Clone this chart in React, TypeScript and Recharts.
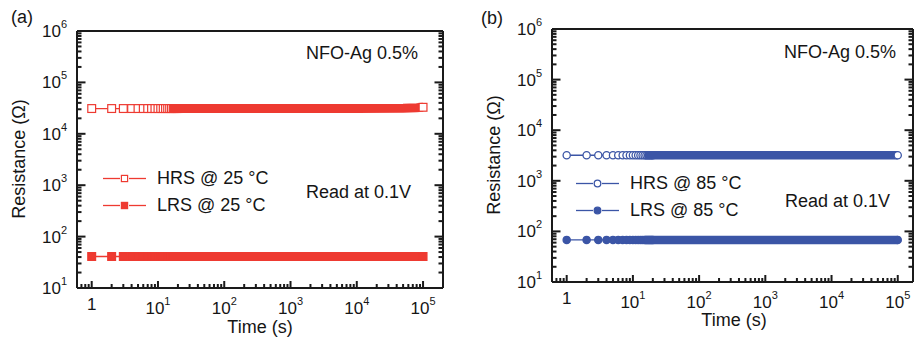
import { ScatterChart, Scatter, XAxis, YAxis, ReferenceLine, Legend } from 'recharts';

const RED = '#ee3a31';
const BLUE = '#3b55a6';
const AXIS = '#1a1a1a';
const TEXT = '#151515';
const FONT = '"Liberation Sans", Arial, sans-serif';

// first 20 readings (1 s apart), markers still distinguishable
const earlyTime = [1, 2, 3, 4, 5, 6, 7, 8, 9, 10, 11, 12, 13, 14, 15, 16, 17, 18, 19, 20];
const hrs25Early = [3.1e4, 3.1e4, 3.1e4, 3.1e4, 3.1e4, 3.1e4, 3.1e4, 3.1e4, 3.1e4, 3.1e4, 3.1e4, 3.1e4, 3.1e4, 3.1e4, 3.1e4, 3.1e4, 3.1e4, 3.1e4, 3.1e4, 3.1e4];
const lrs25Early = [41, 41, 41, 41, 41, 41, 41, 41, 41, 41, 41, 41, 41, 41, 41, 41, 41, 41, 41, 41];
const hrs85Early = [3200, 3200, 3200, 3200, 3200, 3200, 3200, 3200, 3200, 3200, 3200, 3200, 3200, 3200, 3200, 3200, 3200, 3200, 3200, 3200];
const lrs85Early = [68, 68, 68, 68, 68, 68, 68, 68, 68, 68, 68, 68, 68, 68, 68, 68, 68, 68, 68, 68];

// later readings merge into a continuous band of markers
const bandTime = [15, 100, 1000, 10000, 50000, 80000, 100000];
const hrs25Band = [3.1e4, 3.1e4, 3.1e4, 3.12e4, 3.15e4, 3.22e4, 3.28e4];
const lrs25Band = [41, 41, 41, 41, 41, 41, 41];
const hrs85Band = [3200, 3200, 3200, 3200, 3200, 3200, 3200];
const lrs85Band = [68, 68, 68, 68, 68, 68, 68];

const xMajor = [1, 10, 100, 1000, 10000, 100000];
const yMajor = [10, 100, 1000, 10000, 100000, 1000000];
const minorMantissa = [2, 3, 4, 5, 6, 7, 8, 9];

const xTicks = [0.7, 0.8, 0.9, ...xMajor.slice(0, 5).flatMap((d) => minorMantissa.map((m) => m * d)), ...xMajor].sort((a, b) => a - b);
const yTicks = [...yMajor.slice(0, 5).flatMap((d) => minorMantissa.map((m) => m * d)), ...yMajor].sort((a, b) => a - b);

const TW = 2; // tick thickness

const pts = (ts: number[], rs: number[]) => ts.map((t, i) => ({ t, r: rs[i] }));

const decade = (v: number) => {
    const lg = Math.log10(v);
    const e = Math.round(lg);
    return { major: Math.abs(lg - e) < 1e-6, e };
};

// with tickSize = tickMargin = 0 the tick props sit on the axis line; ticks drawn inward
const renderXTick = (props: any) => {
    const x = Number(props.x);
    const y = Number(props.y);
    const { major, e } = decade(Number(props.payload.value));
    const len = major ? 7 : 4;
    return (
        <g>
            <rect x={x - TW / 2} y={y - len} width={TW} height={len} fill={AXIS} />
            {major && (e === 0 ? (
                <text x={x} y={y + 22} textAnchor="middle" fontSize={17} fill={TEXT}>1</text>
            ) : (
                <text x={x} y={y + 26} textAnchor="middle" fontSize={17} fill={TEXT}>
                    10<tspan dy={-9} fontSize={11}>{e}</tspan>
                </text>
            ))}
        </g>
    );
};

const renderYTickLeft = (props: any) => {
    const x = Number(props.x);
    const y = Number(props.y);
    const { major, e } = decade(Number(props.payload.value));
    const len = major ? 8.5 : 4.5;
    return (
        <g>
            <rect x={x} y={y - TW / 2} width={len} height={TW} fill={AXIS} />
            {major && (
                <text x={x - 10} y={y + 6} textAnchor="end" fontSize={17} fill={TEXT}>
                    10<tspan dy={-9} fontSize={11}>{e}</tspan>
                </text>
            )}
        </g>
    );
};

const renderYTickRight = (props: any) => {
    const x = Number(props.x);
    const y = Number(props.y);
    const { major } = decade(Number(props.payload.value));
    const len = major ? 8.5 : 4.5;
    return <rect x={x - len} y={y - TW / 2} width={len} height={TW} fill={AXIS} />;
};

const drawMarker = (kind: string, filled: boolean, color: string, cx: number, cy: number, size: number) =>
    kind === 'square' ? (
        <rect x={cx - size / 2} y={cy - size / 2} width={size} height={size} fill={filled ? color : '#fff'} stroke={color} strokeWidth={1.2} />
    ) : (
        <circle cx={cx} cy={cy} r={size / 2} fill={filled ? color : '#fff'} stroke={color} strokeWidth={1.3} />
    );

const markerShape = (kind: string, filled: boolean, color: string, size: number) => (props: any) => {
    if (props.cx == null || props.cy == null) return <g />;
    return drawMarker(kind, filled, color, props.cx, props.cy, size);
};

const emptyShape = () => <g />;

const axisLineStyle = { stroke: AXIS, strokeWidth: 2 };

interface PanelProps {
    tag: string;
    temp: string;
    color: string;
    kind: string;
    left: number;
    width: number;
    top: number;
    yAxisWidth: number;
    rightWidth: number;
    marginRight: number;
    xAxisHeight: number;
    xDomain: [number, number];
    hrsEarly: number[];
    lrsEarly: number[];
    hrsBand: number[];
    lrsBand: number[];
    legendPos: { left: number; top: number };
    tagPos: [number, number];
    yTitle: [number, number];
    xTitle: [number, number];
    nfoPos: [number, number];
    readPos: [number, number];
}

function Panel(p: PanelProps) {
    const size = p.kind === 'square' ? 7.8 : 7.2;
    const bandW = p.kind === 'square' ? 9 : 8.5;
    const last = bandTime.length - 1;
    const hrsName = `HRS @ ${p.temp} °C`;
    const lrsName = `LRS @ ${p.temp} °C`;

    const legendContent = ({ payload }: any) => {
        const items = (payload || []).filter((entry: any) => entry.value === hrsName || entry.value === lrsName);
        return (
            <div style={{ fontFamily: FONT, fontSize: 18, color: TEXT }}>
                {items.map((entry: any, i: number) => {
                    const filled = entry.value === lrsName;
                    return (
                        <div key={i} style={{ display: 'flex', alignItems: 'center', height: 27 }}>
                            <svg width={54} height={27} style={{ display: 'block' }}>
                                <line x1={0} x2={17} y1={13.5} y2={13.5} stroke={p.color} strokeWidth={1.3} />
                                <line x1={26} x2={43} y1={13.5} y2={13.5} stroke={p.color} strokeWidth={1.3} />
                                {drawMarker(p.kind, filled, p.color, 21.5, 13.5, p.kind === 'square' ? 6.2 : 6.6)}
                            </svg>
                            <span style={{ whiteSpace: 'nowrap' }}>{entry.value}</span>
                        </div>
                    );
                })}
            </div>
        );
    };

    return (
        <div style={{ position: 'absolute', left: p.left, top: 0, width: p.width, height: 337 }}>
            <ScatterChart width={p.width} height={337} margin={{ top: p.top, right: p.marginRight, bottom: 0, left: 0 }}>
                <XAxis
                    dataKey="t"
                    type="number"
                    scale="log"
                    domain={p.xDomain}
                    allowDataOverflow
                    ticks={xTicks}
                    interval={0}
                    tick={renderXTick}
                    tickLine={false}
                    tickSize={0}
                    tickMargin={0}
                    height={p.xAxisHeight}
                    axisLine={axisLineStyle}
                />
                <YAxis
                    dataKey="r"
                    type="number"
                    scale="log"
                    domain={[10, 1000000]}
                    allowDataOverflow
                    ticks={yTicks}
                    interval={0}
                    tick={renderYTickLeft}
                    tickLine={false}
                    tickSize={0}
                    tickMargin={0}
                    width={p.yAxisWidth}
                    axisLine={axisLineStyle}
                />
                <YAxis
                    yAxisId="r"
                    orientation="right"
                    type="number"
                    scale="log"
                    domain={[10, 1000000]}
                    allowDataOverflow
                    ticks={yTicks}
                    interval={0}
                    tick={renderYTickRight}
                    tickLine={false}
                    tickSize={0}
                    tickMargin={0}
                    width={p.rightWidth}
                    axisLine={axisLineStyle}
                />
                <ReferenceLine y={1000000} stroke={AXIS} strokeWidth={2} />
                <Legend
                    layout="vertical"
                    align="center"
                    verticalAlign="middle"
                    wrapperStyle={{ left: p.legendPos.left, top: p.legendPos.top, width: 220, height: 54 }}
                    content={legendContent}
                />

                <Scatter
                    name={hrsName}
                    data={pts(earlyTime, p.hrsEarly)}
                    fill={p.color}
                    line={{ stroke: p.color, strokeWidth: 1.3 }}
                    lineType="joint"
                    shape={markerShape(p.kind, false, p.color, size)}
                    isAnimationActive={false}
                />
                <Scatter
                    name={lrsName}
                    data={pts(earlyTime, p.lrsEarly)}
                    fill={p.color}
                    line={{ stroke: p.color, strokeWidth: 1.3 }}
                    lineType="joint"
                    shape={markerShape(p.kind, true, p.color, size)}
                    isAnimationActive={false}
                />
                <Scatter
                    name="hrs-band"
                    legendType="none"
                    data={pts(bandTime, p.hrsBand)}
                    fill={p.color}
                    line={{ stroke: p.color, strokeWidth: bandW }}
                    lineType="joint"
                    shape={emptyShape}
                    isAnimationActive={false}
                />
                <Scatter
                    name="lrs-band"
                    legendType="none"
                    data={pts(bandTime, p.lrsBand)}
                    fill={p.color}
                    line={{ stroke: p.color, strokeWidth: bandW }}
                    lineType="joint"
                    shape={emptyShape}
                    isAnimationActive={false}
                />
                <Scatter
                    name="hrs-end"
                    legendType="none"
                    data={pts([bandTime[last]], [p.hrsBand[last]])}
                    fill={p.color}
                    shape={markerShape(p.kind, false, p.color, size)}
                    isAnimationActive={false}
                />
                <Scatter
                    name="lrs-end"
                    legendType="none"
                    data={pts([bandTime[last]], [p.lrsBand[last]])}
                    fill={p.color}
                    shape={markerShape(p.kind, true, p.color, size)}
                    isAnimationActive={false}
                />
            </ScatterChart>

            <svg width={p.width} height={337} style={{ position: 'absolute', left: 0, top: 0, pointerEvents: 'none' }}>
                <g fontFamily={FONT} fill={TEXT} fontSize={18}>
                    <text x={p.tagPos[0]} y={p.tagPos[1]}>{p.tag}</text>
                    <text
                        x={p.yTitle[0]}
                        y={p.yTitle[1]}
                        textAnchor="middle"
                        transform={`rotate(-90 ${p.yTitle[0]} ${p.yTitle[1]})`}
                    >
                        Resistance (Ω)
                    </text>
                    <text x={p.xTitle[0]} y={p.xTitle[1]} textAnchor="middle">Time (s)</text>
                    <text x={p.nfoPos[0]} y={p.nfoPos[1]}>NFO-Ag 0.5%</text>
                    <text x={p.readPos[0]} y={p.readPos[1]}>Read at 0.1V</text>
                </g>
            </svg>
        </div>
    );
}

export default function App() {
    return (
        <div
            style={{
                position: 'absolute',
                left: 0,
                top: 0,
                width: 914,
                height: 337,
                overflow: 'hidden',
                background: '#fff',
                fontFamily: FONT,
            }}
        >
            <Panel
                tag="(a)"
                temp="25"
                color={RED}
                kind="square"
                left={0}
                width={460}
                top={31}
                yAxisWidth={77}
                rightWidth={10}
                marginRight={7}
                xAxisHeight={49}
                xDomain={[0.6, 200000]}
                hrsEarly={hrs25Early}
                lrsEarly={lrs25Early}
                hrsBand={hrs25Band}
                lrsBand={lrs25Band}
                legendPos={{ left: 103, top: 164.5 }}
                tagPos={[11, 23]}
                yTitle={[25, 159]}
                xTitle={[260, 333]}
                nfoPos={[306, 58.5]}
                readPos={[306, 197.5]}
            />
            <Panel
                tag="(b)"
                temp="85"
                color={BLUE}
                kind="circle"
                left={460}
                width={460}
                top={29}
                yAxisWidth={92}
                rightWidth={5}
                marginRight={2}
                xAxisHeight={55}
                xDomain={[0.6, 170000]}
                hrsEarly={hrs85Early}
                lrsEarly={lrs85Early}
                hrsBand={hrs85Band}
                lrsBand={lrs85Band}
                legendPos={{ left: 116, top: 169.5 }}
                tagPos={[21, 24]}
                yTitle={[39.5, 155]}
                xTitle={[274, 326]}
                nfoPos={[324, 58]}
                readPos={[325, 206.5]}
            />
        </div>
    );
}
